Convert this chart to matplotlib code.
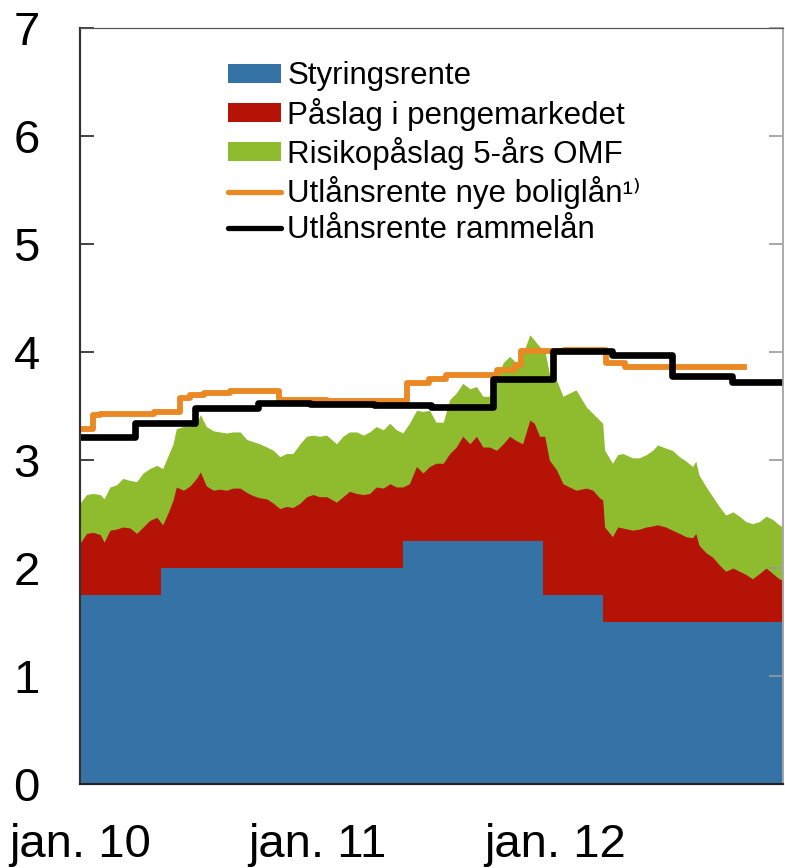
import matplotlib
matplotlib.use('Agg')
import pandas as pd
import matplotlib.pyplot as plt
from matplotlib.patches import Patch
from matplotlib.lines import Line2D

plt.rcParams['font.family'] = ['Liberation Sans', 'DejaVu Sans']

# --- policy rate, step changes ---
policy_dates = ['2010-01-01', '2010-05-06', '2011-05-12', '2011-12-14', '2012-03-14', '2012-12-16']
policy_rate = [1.75, 2.00, 2.25, 1.75, 1.50, 1.50]

# --- money market rate (top of red) and money market + OMF premium (top of green) ---
mm_dates = [
    '2010-01-01', '2010-01-11', '2010-01-21', '2010-02-01', '2010-02-07', '2010-02-16',
    '2010-02-26', '2010-03-08', '2010-03-19', '2010-03-29', '2010-04-08', '2010-04-18',
    '2010-04-29', '2010-05-08', '2010-05-17', '2010-05-24', '2010-05-29', '2010-06-09',
    '2010-06-19', '2010-06-29', '2010-07-05', '2010-07-14', '2010-07-25', '2010-08-04',
    '2010-08-14', '2010-08-24', '2010-09-04', '2010-09-14', '2010-09-24', '2010-10-04',
    '2010-10-15', '2010-10-25', '2010-11-04', '2010-11-14', '2010-11-24', '2010-12-05',
    '2010-12-15', '2010-12-25', '2011-01-04', '2011-01-15', '2011-01-30', '2011-02-09',
    '2011-02-19', '2011-03-02', '2011-03-12', '2011-03-22', '2011-04-01', '2011-04-12',
    '2011-04-22', '2011-05-02', '2011-05-12', '2011-05-22', '2011-06-02', '2011-06-12',
    '2011-06-22', '2011-07-02', '2011-07-13', '2011-07-23', '2011-08-02', '2011-08-12',
    '2011-08-23', '2011-09-02', '2011-09-12', '2011-09-22', '2011-10-03', '2011-10-13',
    '2011-10-23', '2011-11-02', '2011-11-12', '2011-11-23', '2011-11-30', '2011-12-08',
    '2011-12-16', '2011-12-23', '2012-01-03', '2012-01-13', '2012-01-23', '2012-02-02',
    '2012-02-18', '2012-02-28', '2012-03-09', '2012-03-14', '2012-03-17', '2012-03-29',
    '2012-04-06', '2012-04-14', '2012-04-29', '2012-05-09', '2012-05-20', '2012-05-30',
    '2012-06-06', '2012-06-19', '2012-06-29', '2012-07-10', '2012-07-20', '2012-07-30',
    '2012-08-04', '2012-08-09', '2012-08-20', '2012-08-30', '2012-09-09', '2012-09-19',
    '2012-09-30', '2012-10-10', '2012-10-20', '2012-10-30', '2012-11-10', '2012-11-20',
    '2012-11-30', '2012-12-10', '2012-12-16',
]
mm_top = [
    2.23, 2.32, 2.33, 2.31, 2.24, 2.35, 2.36, 2.38, 2.37, 2.32, 2.38, 2.44,
    2.47, 2.40, 2.52, 2.63, 2.75, 2.72, 2.76, 2.83, 2.89, 2.76, 2.72, 2.73,
    2.72, 2.74, 2.74, 2.70, 2.67, 2.65, 2.64, 2.60, 2.55, 2.57, 2.56, 2.60,
    2.66, 2.68, 2.66, 2.66, 2.61, 2.66, 2.71, 2.69, 2.68, 2.69, 2.75, 2.74,
    2.78, 2.75, 2.75, 2.78, 2.94, 2.88, 2.94, 2.97, 2.97, 3.06, 3.12, 3.22,
    3.15, 3.22, 3.12, 3.12, 3.09, 3.15, 3.22, 3.18, 3.15, 3.37, 3.34, 3.22,
    3.22, 3.00, 2.91, 2.78, 2.75, 2.72, 2.74, 2.72, 2.65, 2.63, 2.38, 2.29,
    2.38, 2.37, 2.35, 2.36, 2.38, 2.39, 2.40, 2.38, 2.35, 2.32, 2.29, 2.28,
    2.32, 2.21, 2.14, 2.10, 2.03, 1.97, 2.00, 1.97, 1.94, 1.90, 1.95, 2.00,
    1.95, 1.90, 1.89,
]
omf_top = [
    2.60, 2.68, 2.69, 2.68, 2.64, 2.75, 2.77, 2.83, 2.81, 2.80, 2.88, 2.92,
    2.95, 2.92, 3.05, 3.15, 3.29, 3.31, 3.31, 3.34, 3.42, 3.31, 3.27, 3.26,
    3.25, 3.26, 3.26, 3.19, 3.17, 3.15, 3.12, 3.09, 3.03, 3.06, 3.06, 3.15,
    3.22, 3.23, 3.22, 3.23, 3.15, 3.22, 3.26, 3.26, 3.23, 3.26, 3.31, 3.28,
    3.34, 3.28, 3.25, 3.34, 3.46, 3.45, 3.46, 3.35, 3.35, 3.56, 3.62, 3.71,
    3.66, 3.68, 3.59, 3.59, 3.74, 3.90, 3.96, 3.90, 3.97, 4.16, 4.11, 4.05,
    4.02, 3.80, 3.74, 3.59, 3.62, 3.65, 3.49, 3.43, 3.37, 3.34, 3.09, 2.97,
    3.05, 3.06, 3.02, 3.02, 3.05, 3.09, 3.14, 3.11, 3.09, 3.03, 2.99, 2.94,
    2.99, 2.86, 2.75, 2.66, 2.57, 2.49, 2.52, 2.48, 2.43, 2.41, 2.43, 2.48,
    2.45, 2.40, 2.38,
]

# --- lending rates ---
new_loan_dates = ['2010-01-01', '2010-01-21', '2010-02-01', '2010-04-25', '2010-06-04', '2010-06-19',
                  '2010-07-11', '2010-08-20', '2010-11-03', '2011-01-15', '2011-05-18', '2011-06-21',
                  '2011-07-17', '2011-10-03', '2011-11-01', '2011-11-10', '2012-01-15', '2012-03-19',
                  '2012-04-18', '2012-10-17']
new_loan_rate = [3.29, 3.42, 3.43, 3.44, 3.57, 3.60, 3.62, 3.64, 3.56, 3.55, 3.71, 3.75,
                 3.79, 3.83, 3.88, 4.01, 4.02, 3.90, 3.86, 3.86]

frame_dates = ['2010-01-01', '2010-03-27', '2010-06-27', '2010-10-01', '2010-12-20', '2011-03-28',
               '2011-06-25', '2011-09-28', '2011-12-28', '2012-03-28', '2012-06-28', '2012-09-28',
               '2012-12-16']
frame_rate = [3.21, 3.34, 3.48, 3.53, 3.52, 3.51, 3.49, 3.75, 4.01, 3.97, 3.78, 3.72, 3.72]

xtick_dates = ['2010-01-01', '2011-01-01', '2012-01-01']
xtick_labels = ['jan. 10', 'jan. 11', 'jan. 12']

legend_labels = ['Styringsrente', 'Påslag i pengemarkedet', 'Risikopåslag 5-års OMF',
                 'Utlånsrente nye boliglån\u00b9\u207e', 'Utlånsrente rammelån']

BLUE = '#3572A5'
RED = '#B51306'
GREEN = '#8FBC2E'
ORANGE = '#EA8824'

pd_policy = pd.to_datetime(policy_dates)
pd_mm = pd.to_datetime(mm_dates)

fig = plt.figure(figsize=(7.85, 8.68), dpi=100)
ax = fig.add_axes([80 / 785, 1 - 784 / 868, 703 / 785, 756 / 868])

# layers drawn from the back: green top, red top, then the policy rate steps
ax.fill_between(pd_mm, 0, omf_top, color=GREEN, lw=0, zorder=1)
ax.fill_between(pd_mm, 0, mm_top, color=RED, lw=0, zorder=2)
ax.fill_between(pd_policy, 0, policy_rate, step='post', color=BLUE, lw=0, zorder=3)

ax.plot(pd.to_datetime(new_loan_dates), new_loan_rate, drawstyle='steps-post',
        color=ORANGE, lw=4.2, zorder=4, solid_joinstyle='round')
ax.plot(pd.to_datetime(frame_dates), frame_rate, drawstyle='steps-post',
        color='black', lw=4.8, zorder=5, solid_joinstyle='round')

ax.set_xlim(pd.Timestamp('2010-01-01'), pd.Timestamp('2012-12-16'))
ax.set_ylim(0, 7)
ax.set_yticks(range(0, 8))
ax.set_xticks(pd.to_datetime(xtick_dates))
ax.set_xticklabels(xtick_labels)

ax.tick_params(axis='both', direction='in', labelsize=34, colors='#222222')
ax.tick_params(axis='y', length=10, width=1.2, pad=29)
ax.tick_params(axis='x', length=11, width=1.0, pad=28)
for lab in ax.get_yticklabels() + ax.get_xticklabels():
    lab.set_color('black')

# lighter ticks on the right side
ax2 = ax.twinx()
ax2.set_ylim(0, 7)
ax2.set_yticks(range(0, 8))
ax2.tick_params(axis='y', direction='in', length=10, width=1.2, colors='#999999', labelright=False)
for a in (ax, ax2):
    a.spines['left'].set_color('#333333')
    a.spines['left'].set_linewidth(1.5)
    a.spines['top'].set_color('#555555')
    a.spines['bottom'].set_color('#222222')
    a.spines['bottom'].set_linewidth(1.5)
    a.spines['right'].set_color('#aaaaaa')
    a.spines['right'].set_linewidth(1.2)

handles = [
    Patch(facecolor=BLUE, edgecolor='none'),
    Patch(facecolor=RED, edgecolor='none'),
    Patch(facecolor=GREEN, edgecolor='none'),
    Line2D([], [], color=ORANGE, lw=3.8, solid_capstyle='round'),
    Line2D([], [], color='black', lw=3.8, solid_capstyle='round'),
]
ax2.legend(handles, legend_labels, loc='upper left', bbox_to_anchor=(148 / 703, 0.956),
           frameon=False, fontsize=22.5, handlelength=1.7, handleheight=0.55,
           handletextpad=0.2, labelspacing=0.2, borderpad=0, borderaxespad=0)

fig.savefig('out.png', dpi=100)
